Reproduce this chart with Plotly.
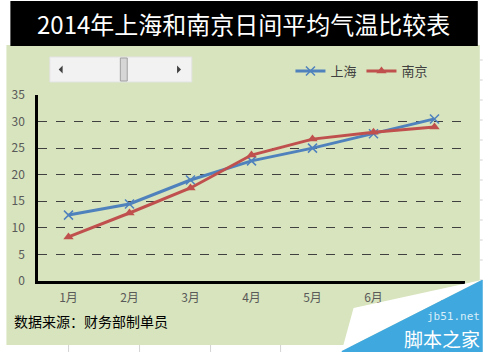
import plotly.graph_objects as go

months = ["1月", "2月", "3月", "4月", "5月", "6月", "7月"]
shanghai = [12.4, 14.5, 19.0, 22.6, 25.0, 27.7, 30.5]
nanjing = [8.3, 12.8, 17.5, 23.7, 26.7, 28.0, 29.0]
y_ticks = [0, 5, 10, 15, 20, 25, 30, 35]

W, H = 483, 352
L, R, T, B = 32, 18, 95, 71
PW, PH = W - L - R, H - T - B

def px(x):
    return (x - L) / PW

def py(y):
    return (H - B - y) / PH

FONT = "Noto Sans CJK SC"

fig = go.Figure()
fig.add_trace(go.Scatter(
    x=months, y=shanghai, name="上海", mode="lines+markers",
    line=dict(color="#4F81BD", width=3),
    marker=dict(symbol="x-thin", size=9, line=dict(color="#4F81BD", width=1.5), color="#4F81BD"),
))
fig.add_trace(go.Scatter(
    x=months, y=nanjing, name="南京", mode="lines+markers",
    line=dict(color="#C0504D", width=3),
    marker=dict(symbol="triangle-up", size=9, color="#C0504D"),
))

shapes = []
# spreadsheet faint grid (background)
for gx in [63, 135, 207, 278, 350, 422]:
    shapes.append(dict(type="line", xref="paper", yref="paper", x0=px(gx), x1=px(gx), y0=py(345), y1=py(352),
                       line=dict(color="#D4D4D4", width=1), layer="below"))
for gy in [60, 80, 100, 120, 140, 160, 180, 200, 220, 240, 260, 280]:
    shapes.append(dict(type="line", xref="paper", yref="paper", x0=px(480), x1=px(483), y0=py(gy), y1=py(gy),
                       line=dict(color="#D4D4D4", width=1), layer="below"))
# chart area
shapes.append(dict(type="rect", xref="paper", yref="paper", x0=px(0), x1=px(480), y0=py(345), y1=py(45),
                   fillcolor="#D7E4BD", line=dict(width=0), layer="below"))
# title bar
shapes.append(dict(type="rect", xref="paper", yref="paper", x0=px(4), x1=px(478), y0=py(46), y1=py(1),
                   fillcolor="#000000", line=dict(width=0), layer="below"))
# slider widget
shapes.append(dict(type="rect", xref="paper", yref="paper", x0=px(44), x1=px(188), y0=py(82), y1=py(57),
                   fillcolor="#F2F2F2", line=dict(color="#E2E2E2", width=1), layer="below"))
shapes.append(dict(type="rect", xref="paper", yref="paper", x0=px(115.5), x1=px(122.5), y0=py(81), y1=py(58),
                   fillcolor="#D6D6D6", line=dict(color="#A0A0A0", width=1), layer="below"))
def tri(pts, color):
    path = "M " + " L ".join(f"{px(a)},{py(b)}" for a, b in pts) + " Z"
    return dict(type="path", xref="paper", yref="paper", path=path, fillcolor=color,
                line=dict(width=0), layer="above")
shapes.append(tri([(53, 69.5), (57, 65.5), (57, 73.5)], "#404040"))
shapes.append(tri([(177, 69.5), (173, 65.5), (173, 73.5)], "#404040"))
# watermark
shapes.append(tri([(340, 351), (352, 308), (482, 280)], "#FFFFFF"))
shapes.append(tri([(340, 351), (482, 280), (483, 280), (483, 352), (340, 352)], "#3FA8DE"))

annotations = [
    dict(text="2014年上海和南京日间平均气温比较表", xref="paper", yref="paper",
         x=px(240), y=py(24), xanchor="center", yanchor="middle", showarrow=False,
         font=dict(family=FONT, size=24, color="#FFFFFF")),
    dict(text="数据来源：财务部制单员", xref="paper", yref="paper",
         x=px(6), y=py(321), xanchor="left", yanchor="middle", showarrow=False,
         font=dict(family=FONT, size=14, color="#000000")),
    dict(text="jb51.net", xref="paper", yref="paper",
         x=px(482), y=py(316), xanchor="right", yanchor="middle", showarrow=False,
         font=dict(family="DejaVu Sans Mono", size=11, color="#D8EEF9")),
    dict(text="脚本之家", xref="paper", yref="paper",
         x=px(482), y=py(338), xanchor="right", yanchor="middle", showarrow=False,
         font=dict(family=FONT, size=19, color="#FFFFFF")),
]

fig.update_layout(
    width=W, height=H,
    margin=dict(l=L, r=R, t=T, b=B),
    paper_bgcolor="#FFFFFF",
    plot_bgcolor="rgba(0,0,0,0)",
    font=dict(family=FONT, size=12, color="#595959"),
    showlegend=True,
    legend=dict(orientation="h", x=px(288), y=py(71), xanchor="left", yanchor="middle",
                bgcolor="rgba(0,0,0,0)", font=dict(family=FONT, size=13, color="#404040"),
                itemwidth=30, tracegroupgap=0),
    shapes=shapes,
    annotations=annotations,
)
fig.update_xaxes(
    type="category", range=[-0.5, 6.5], showgrid=False,
    showline=True, linecolor="#000000", linewidth=2.5,
    ticks="", ticklabelstandoff=4, tickfont=dict(family=FONT, size=12, color="#595959"),
)
fig.update_yaxes(
    range=[0, 35], tickvals=y_ticks, showgrid=True, gridcolor="#404040", griddash="dash", gridwidth=1,
    showline=True, linecolor="#000000", linewidth=2.5, zeroline=False,
    ticks="", ticklabelstandoff=8, tickfont=dict(family=FONT, size=12, color="#595959"),
)

fig.write_html("out.html")
